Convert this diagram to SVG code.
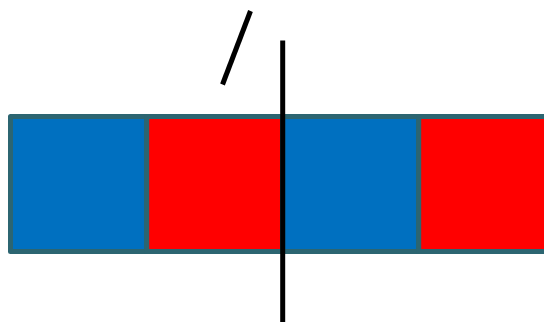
<svg xmlns="http://www.w3.org/2000/svg" width="544" height="322" viewBox="0 0 544 322">
<style>
.cell{stroke:#2c6571;stroke-width:5;stroke-linejoin:round}
.blue{fill:#0070c0}
.red{fill:#ff0000}
.ln{stroke:#000;stroke-width:5;fill:none}
</style>
<rect width="544" height="322" fill="#fff"/>
<g id="cell1"><rect class="cell blue" x="10.5" y="116.5" width="136.2" height="135"/></g>
<g id="cell2"><rect class="cell red" x="146.7" y="116.5" width="136" height="135"/></g>
<g id="cell3"><rect class="cell blue" x="282.7" y="116.5" width="136" height="135"/></g>
<g id="cell4"><rect class="cell red" x="418.7" y="116.5" width="136" height="135"/></g>
<g id="connectors">
<line class="ln" x1="282.7" y1="40.5" x2="282.7" y2="322"/>
<line class="ln" x1="250.5" y1="11" x2="222.5" y2="84.5"/>
</g>
</svg>
